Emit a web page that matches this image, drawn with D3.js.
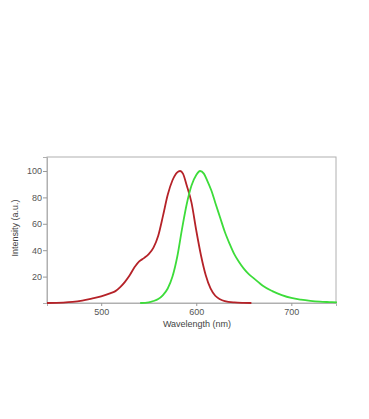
<!DOCTYPE html>
<html><head><meta charset="utf-8">
<script src="https://cdn.jsdelivr.net/npm/d3@7"></script>
<style>body{margin:0;background:#fff}</style>
</head><body>
<svg id="c" width="369" height="419"></svg>
<script>
const redWl  = [443,460,470,480,490,500,510,515,520,525,530,535,540,545,550,555,560,565,570,575,580,583,586,590,595,600,605,610,615,620,625,630,640,650,658];
const redVal = [0,0.3,0.8,1.8,3.3,5,7.5,9,12,16,21,27,31.5,34,37,42,51,66,82,93,99,100,98,89,76,55,36,21,11,5.5,2.8,1.4,0.4,0.1,0];
const greenWl  = [541,550,555,560,565,570,575,580,585,590,595,600,604,608,612,616,620,625,630,635,640,645,650,655,660,665,670,680,690,700,710,720,730,740,748];
const greenVal = [0,0.5,1.5,3,6,11,20,35,56,75,89,97,100,98,92,85,76,65,54,45,37,31,26,22,19,16,13,9,6,3.8,2.5,1.6,1,0.7,0.5];
const xTicks = [500,600,700];
const yTicks = [20,40,60,80,100];

const svg = d3.select("#c");
const L=47, R=336, T=157, B=303;
const x = d3.scaleLinear().domain([443,747]).range([L,R]);
const y = d3.scaleLinear().domain([0,110.6]).range([B,T]);

svg.append("rect").attr("x",L).attr("y",T).attr("width",R-L).attr("height",B-T)
  .attr("fill","none").attr("stroke","#b0b0b0").attr("stroke-width",1);

const font = "Liberation Sans, Arial, sans-serif";
const gx = svg.append("g").attr("transform",`translate(0,${B})`)
  .call(d3.axisBottom(x).tickValues(xTicks).tickSize(3).tickPadding(3));
const gy = svg.append("g").attr("transform",`translate(${L},0)`)
  .call(d3.axisLeft(y).tickValues(yTicks).tickSize(4).tickPadding(1));
[gx,gy].forEach(g=>{
  g.select(".domain").attr("stroke","#b0b0b0");
  g.selectAll(".tick line").attr("stroke","#999");
  g.selectAll(".tick text").attr("fill","#555").style("font-family",font).style("font-size","9px");
});

const line = d3.line().curve(d3.curveMonotoneX);
svg.append("path").attr("d", line(redWl.map((w,i)=>[x(w),y(redVal[i])])))
  .attr("fill","none").attr("stroke","#b52228").attr("stroke-width",1.8);
svg.append("path").attr("d", line(greenWl.map((w,i)=>[x(w),y(greenVal[i])])))
  .attr("fill","none").attr("stroke","#3ddc3a").attr("stroke-width",1.8);

svg.append("text").attr("x",197).attr("y",327).attr("text-anchor","middle")
  .attr("fill","#444").style("font-family",font).style("font-size","9px").text("Wavelength (nm)");
svg.append("text").attr("transform","translate(18,228) rotate(-90)").attr("text-anchor","middle")
  .attr("fill","#444").style("font-family",font).style("font-size","9px").text("Intensity (a.u.)");
</script>
</body></html>
